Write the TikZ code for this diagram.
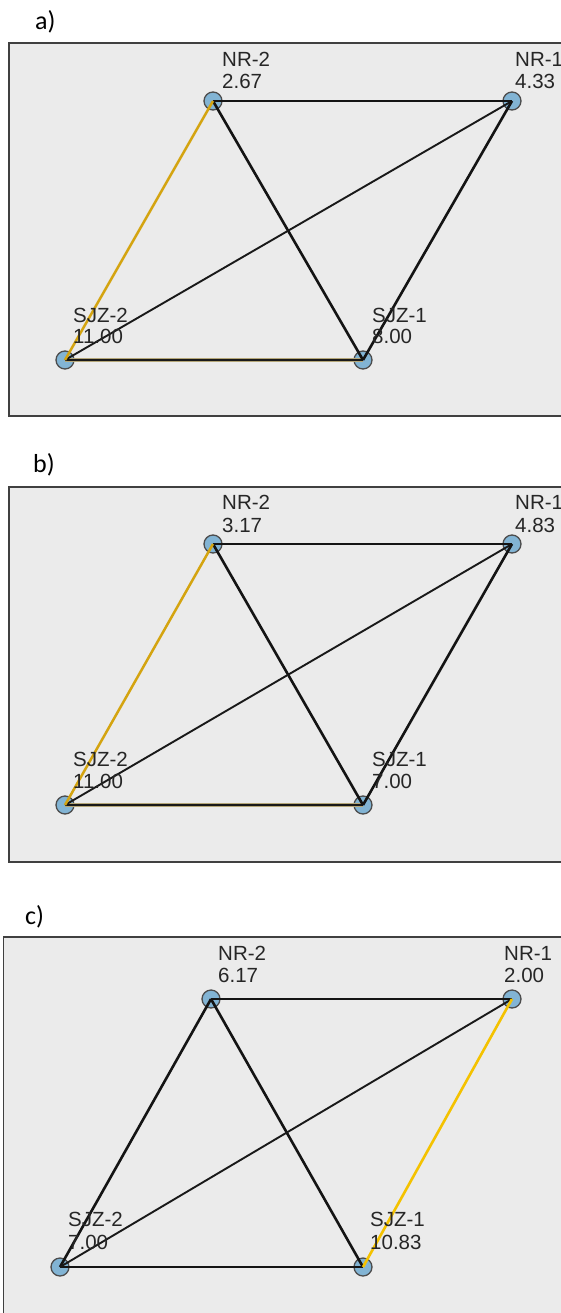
\documentclass[tikz,border=0pt]{standalone}
\usepackage{fontspec}
\setmainfont{Liberation Sans}
\newfontfamily\titlefont{Carlito}
\begin{document}
\begin{tikzpicture}[x=1pt,y=-1pt,
  panelbox/.style={draw=black!75,line width=1.8pt,fill=black!8},
  vert/.style={circle,minimum size=18pt,inner sep=0pt,fill={rgb,255:red,130;green,180;blue,212},draw=black!70,line width=1.3pt},
  lbl/.style={anchor=base west,inner sep=0pt,text=black!85,font=\fontsize{20.5}{22}\selectfont},
  ttl/.style={anchor=base west,inner sep=0pt,text=black,font=\titlefont\fontsize{26}{28}\selectfont},
  blk/.style={draw=black!92,line width=2.6pt},
  thn/.style={draw=black!90,line width=1.9pt},
  gold/.style={draw={rgb,255:red,212;green,164;blue,16},line width=2.5pt},
  yel/.style={draw={rgb,255:red,244;green,194;blue,0},line width=2.6pt},
  tanbg/.style={draw={rgb,255:red,180;green,166;blue,120},line width=4pt},
  tanfg/.style={draw=black!90,line width=1.6pt}]
\useasboundingbox (0,0) rectangle (561,1313);
\clip (0,0) rectangle (561,1313);
\fill[white] (0,0) rectangle (561,1313);

% ---------------- panel a ----------------
\node[ttl] (ta) at (35,30) {a)};
\draw[panelbox] (9,43) rectangle (575,416);
\node[vert] (aNR2) at (213,101) {};
\node[vert] (aNR1) at (512,101) {};
\node[vert] (aSJ2) at (65,360) {};
\node[vert] (aSJ1) at (363,360) {};
\draw[tanbg] (aSJ2.center) -- (aSJ1.center);
\draw[tanfg] (aSJ2.center) -- (aSJ1.center);
\draw[blk] (aNR2.center) -- (aNR1.center);
\draw[blk] (aNR2.center) -- (aSJ1.center);
\draw[thn] (aSJ2.center) -- (aNR1.center);
\draw[blk] (aSJ1.center) -- (aNR1.center);
\draw[gold] (aSJ2.center) -- (aNR2.center);
\node[lbl] (aNR2a) at (222,67) {NR-2};
\node[lbl] (aNR2b) at (222,89) {2.67};
\node[lbl] (aNR1a) at (515,67) {NR-1};
\node[lbl] (aNR1b) at (515,89) {4.33};
\node[lbl] (aSJ2a) at (73,322) {SJZ-2};
\node[lbl] (aSJ2b) at (73,343) {11.00};
\node[lbl] (aSJ1a) at (372,322) {SJZ-1};
\node[lbl] (aSJ1b) at (372,343) {8.00};

% ---------------- panel b ----------------
\node[ttl] (tb) at (33,472) {b)};
\draw[panelbox] (9,487) rectangle (575,862);
\node[vert] (bNR2) at (213,544) {};
\node[vert] (bNR1) at (512,544) {};
\node[vert] (bSJ2) at (65,805) {};
\node[vert] (bSJ1) at (363,805) {};
\draw[tanbg] (bSJ2.center) -- (bSJ1.center);
\draw[tanfg] (bSJ2.center) -- (bSJ1.center);
\draw[blk] (bNR2.center) -- (bNR1.center);
\draw[blk] (bNR2.center) -- (bSJ1.center);
\draw[thn] (bSJ2.center) -- (bNR1.center);
\draw[blk] (bSJ1.center) -- (bNR1.center);
\draw[gold] (bSJ2.center) -- (bNR2.center);
\node[lbl] (bNR2a) at (222,509) {NR-2};
\node[lbl] (bNR2b) at (222,532) {3.17};
\node[lbl] (bNR1a) at (515,509) {NR-1};
\node[lbl] (bNR1b) at (515,532) {4.83};
\node[lbl] (bSJ2a) at (73,766) {SJZ-2};
\node[lbl] (bSJ2b) at (73,788) {11.00};
\node[lbl] (bSJ1a) at (372,766) {SJZ-1};
\node[lbl] (bSJ1b) at (372,788) {7.00};

% ---------------- panel c ----------------
\node[ttl] (tc) at (25,924) {c)};
\draw[panelbox] (3.5,937) rectangle (575,1340);
\node[vert] (cNR2) at (211,999) {};
\node[vert] (cNR1) at (512,999) {};
\node[vert] (cSJ2) at (60,1267) {};
\node[vert] (cSJ1) at (363,1267) {};
\draw[blk] (cSJ2.center) -- (cSJ1.center);
\draw[blk] (cNR2.center) -- (cNR1.center);
\draw[blk] (cNR2.center) -- (cSJ1.center);
\draw[blk] (cNR2.center) -- (cSJ2.center);
\draw[thn] (cSJ2.center) -- (cNR1.center);
\draw[yel] (cSJ1.center) -- (cNR1.center);
\node[lbl] (cNR2a) at (218,960) {NR-2};
\node[lbl] (cNR2b) at (218,982) {6.17};
\node[lbl] (cNR1a) at (504,960) {NR-1};
\node[lbl] (cNR1b) at (504,982) {2.00};
\node[lbl] (cSJ2a) at (68,1226) {SJZ-2};
\node[lbl] (cSJ2b) at (68,1249) {7.00};
\node[lbl] (cSJ1a) at (370,1226) {SJZ-1};
\node[lbl] (cSJ1b) at (370,1249) {10.83};
\end{tikzpicture}
\end{document}
